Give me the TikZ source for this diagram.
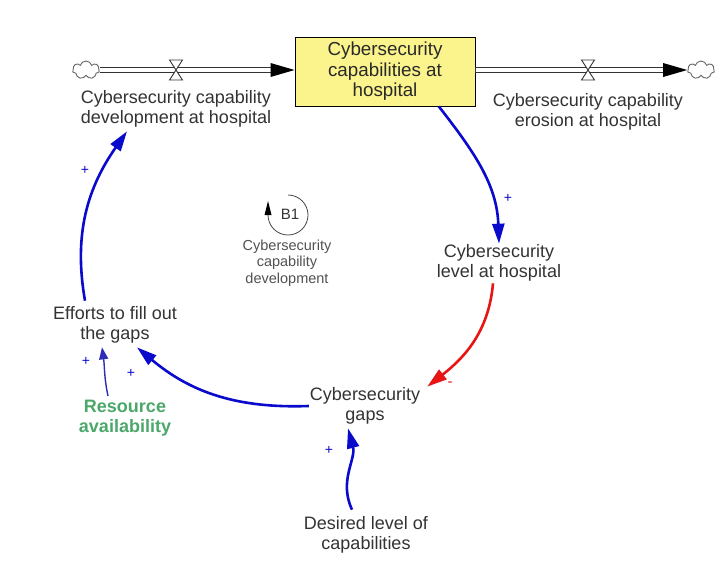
\documentclass[tikz,border=0pt]{standalone}
\usepackage{fontspec}
\setmainfont{Liberation Sans}
\usetikzlibrary{arrows.meta,shapes.symbols,calc}
\definecolor{txt}{HTML}{333333}
\definecolor{cldblue}{HTML}{0A0ACD}
\definecolor{cldred}{HTML}{E81515}
\definecolor{resgreen}{HTML}{4CA86A}
\definecolor{stockfill}{HTML}{FBF38C}
\begin{document}
\begin{tikzpicture}[x=1pt,y=1pt,
  lbl/.style={text=txt,align=center,font=\fontsize{18}{19.5}\selectfont,inner sep=1pt},
  smalllbl/.style={text=txt!85,align=center,font=\fontsize{14.5}{16.5}\selectfont,inner sep=1pt},
  stockbox/.style={draw=black,line width=0.9pt,fill=stockfill,minimum width=180pt,minimum height=69pt,align=center,text=txt!80!black,font=\fontsize{18.8}{20.5}\selectfont},
  cloudshape/.style={cloud,cloud puffs=7,draw=gray!80!black,line width=0.9pt,minimum width=27pt,minimum height=18pt,inner sep=0pt},
  pipeout/.style={draw=black!80,line width=6.5pt},
  pipein/.style={draw=white,line width=3.5pt},
  blink/.style={draw=cldblue,line width=2.6pt,-{Triangle[length=20pt,width=12pt]}},
  rlink/.style={draw=cldred,line width=2.6pt,-{Triangle[length=20pt,width=12pt]}},
  thinlink/.style={draw=cldblue!70!gray,line width=1.4pt,-{Triangle[length=12pt,width=9pt]}},
  pol/.style={text=cldblue,font=\fontsize{14}{14}\selectfont,inner sep=0pt},
  polr/.style={text=cldred,font=\fontsize{15}{15}\selectfont,inner sep=0pt}
]
\useasboundingbox (0,0) rectangle (720,-582);
\fill[white] (0,0) rectangle (720,-582);

% stock
\node[stockbox] (stock) at (385,-71.5) {Cybersecurity\\capabilities at\\hospital};

% clouds and valves
\node[cloudshape] (cloudL) at (86,-70) {};
\node[cloudshape] (cloudR) at (701,-70) {};
\coordinate (valveL) at (176,-70);
\coordinate (valveR) at (588,-70);
\coordinate (inL) at (stock.west |- cloudL.east);
\coordinate (outR) at (stock.east |- cloudR.west);

\draw[pipeout] (cloudL.east) -- ($(inL)+(-20,0)$);
\draw[pipein] (cloudL.east) -- ($(inL)+(-20,0)$);
\draw[pipeout] (outR) -- ($(cloudR.west)+(-20,0)$);
\draw[pipein] ($(outR)+(0.5,0)$) -- ($(cloudR.west)+(-20,0)$);
\fill[black] ($(inL)+(-24,0)$) -- ++(0,7) -- (inL) -- ($(inL)+(-24,-7)$) -- cycle;
\fill[black] ($(cloudR.west)+(-24,0)$) -- ++(0,7) -- (cloudR.west) -- ($(cloudR.west)+(-24,-7)$) -- cycle;
\foreach \v in {valveL,valveR}{
  \draw[black!80,line width=0.9pt,fill=white] ($(\v)+(-6.5,10)$) -- ($(\v)+(6.5,10)$) -- ($(\v)+(-6.5,-10)$) -- ($(\v)+(6.5,-10)$) -- cycle;
}

\node[lbl] (devlbl) at (176,-109) {Cybersecurity capability\\development at hospital};
\node[lbl] (erolbl) at (588,-112) {Cybersecurity capability\\erosion at hospital};

% variables
\node[lbl] (level) at (499,-263) {Cybersecurity\\level at hospital};
\node[lbl] (gaps) at (365,-406) {Cybersecurity\\gaps};
\node[lbl] (efforts) at (115,-325) {Efforts to fill out\\the gaps};
\node[lbl,text=resgreen,font=\bfseries\fontsize{18}{19.5}\selectfont] (resource) at (125,-418) {Resource\\availability};
\node[lbl] (desired) at (366,-535) {Desired level of\\capabilities};

% loop marker
\node[text=txt,font=\fontsize{15}{15}\selectfont,inner sep=0pt] (loop) at (290,-214) {B1};
\draw[txt!90,line width=0.8pt] ($(loop)+(-2,19)$) arc[start angle=90,end angle=-180,radius=20];
\fill[black] ($(loop)+(-22,-1)$) -- ++(3.5,0) -- ++(-3.5,14) -- ++(-3.5,-14) -- cycle;
\node[smalllbl] (looplbl) at (287,-263) {Cybersecurity\\capability\\development};

% links
\draw[blink] (stock.-33) to[out=-52,in=92] (level.north);
\draw[rlink] ($(level.south)+(-6,-1)$) to[out=-95,in=38] ($(gaps.north east)+(6,0)$);
\draw[blink] (gaps.west) to[out=182,in=-40] ($(efforts.south)+(22,-3)$);
\draw[blink] ($(efforts.north)+(-30,5)$) to[out=100,in=-125] ($(devlbl.south)+(-49,-3)$);
\draw[thinlink] ($(resource.north)+(-17,3)$) to[out=102,in=-82] ($(efforts.south)+(-13,-3)$);
\draw[blink] ($(desired.north)+(-14,6)$) to[out=115,in=-75] ($(gaps.south)+(-17,-3)$);

% polarities
\node[pol] at (508,-198) {+};
\node[polr] at (450,-384) {-};
\node[pol] at (131,-373) {+};
\node[pol] at (85,-170) {+};
\node[pol] at (86,-361) {+};
\node[pol] at (329,-450) {+};
\end{tikzpicture}
\end{document}
